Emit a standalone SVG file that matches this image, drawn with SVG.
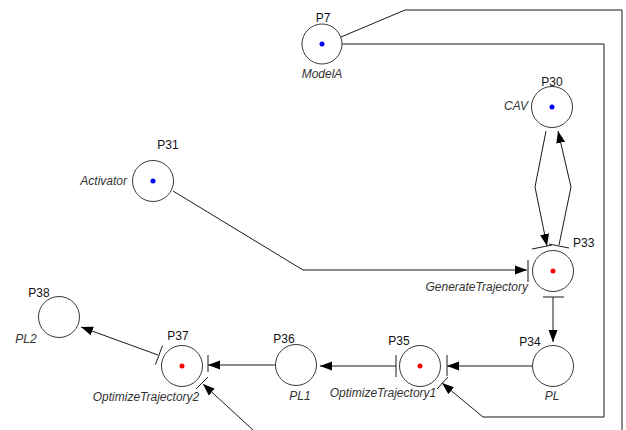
<svg xmlns="http://www.w3.org/2000/svg" width="626" height="430" viewBox="0 0 626 430">
  <style>
    .place { fill: #ffffff; stroke: #3a3a3a; stroke-width: 1; }
    .arc { fill: none; stroke: #1a1a1a; stroke-width: 1; }
    .bar { fill: none; stroke: #1a1a1a; stroke-width: 1; }
    .name { font-family: "Liberation Sans", Arial, sans-serif; font-size: 12px; fill: #111111; }
    .label { font-family: "Liberation Sans", Arial, sans-serif; font-size: 12px; font-style: italic; fill: #333333; }
    .tok-b { fill: #0000ff; }
    .tok-r { fill: #ff0000; }
  </style>
  <defs>
    <marker id="head" markerUnits="userSpaceOnUse" markerWidth="13" markerHeight="10" refX="12" refY="5" orient="auto">
      <path d="M0,0.5 L12,5 L0,9.5 Z" fill="#000000"/>
    </marker>
  </defs>
  <rect width="626" height="430" fill="#ffffff"/>

  <g id="connectors">
    <!-- feedback loops from ModelA along the right border -->
    <polyline class="arc" points="341,37 405,10 622,10 622,430"/>
    <line class="arc" x1="253" y1="430" x2="203" y2="384" marker-end="url(#head)"/>
    <polyline class="arc" points="342,44 604,44 604,417 483,417 442,383" marker-end="url(#head)"/>
    <!-- Activator into GenerateTrajectory -->
    <polyline class="arc" points="173,191 303,270 527,270" marker-end="url(#head)"/>
    <!-- CAV exchange -->
    <polyline class="arc" points="546,131 535,187 547,246" marker-end="url(#head)"/>
    <polyline class="arc" points="559,245 571,187 558,131" marker-end="url(#head)"/>
    <!-- main chain -->
    <line class="arc" x1="553" y1="297" x2="553" y2="342" marker-end="url(#head)"/>
    <line class="arc" x1="532" y1="366" x2="447" y2="366" marker-end="url(#head)"/>
    <line class="arc" x1="396" y1="366" x2="320" y2="366" marker-end="url(#head)"/>
    <line class="arc" x1="275" y1="365" x2="208" y2="365" marker-end="url(#head)"/>
    <line class="arc" x1="158" y1="355" x2="81" y2="327" marker-end="url(#head)"/>
  </g>

  <g id="P7">
    <circle class="place" cx="322" cy="44" r="20"/>
    <circle class="tok-b" cx="322" cy="44" r="2.5"/>
    <text class="name" x="323" y="22" text-anchor="middle">P7</text>
    <text class="label" x="322" y="78" text-anchor="middle">ModelA</text>
  </g>

  <g id="P30">
    <circle class="place" cx="552" cy="107" r="20.5"/>
    <circle class="tok-b" cx="552" cy="107" r="2.5"/>
    <text class="name" x="552" y="86" text-anchor="middle">P30</text>
    <text class="label" x="528" y="110" text-anchor="end">CAV</text>
  </g>

  <g id="P31">
    <circle class="place" cx="153" cy="181" r="20.5"/>
    <circle class="tok-b" cx="153" cy="181" r="2.5"/>
    <text class="name" x="168" y="149" text-anchor="middle">P31</text>
    <text class="label" x="127" y="185" text-anchor="end">Activator</text>
  </g>

  <g id="P33">
    <circle class="place" cx="553" cy="271" r="20.5"/>
    <circle class="tok-r" cx="553" cy="271" r="2.5"/>
    <line class="bar" x1="532" y1="249" x2="552" y2="245"/>
    <line class="bar" x1="549" y1="244" x2="569" y2="248"/>
    <line class="bar" x1="528" y1="260" x2="528" y2="282"/>
    <line class="bar" x1="543" y1="297" x2="564" y2="297"/>
    <text class="name" x="573" y="247">P33</text>
    <text class="label" x="528" y="291" text-anchor="end">GenerateTrajectory</text>
  </g>

  <g id="P34">
    <circle class="place" cx="553" cy="366" r="20.5"/>
    <text class="name" x="530" y="346" text-anchor="middle">P34</text>
    <text class="label" x="552" y="400" text-anchor="middle">PL</text>
  </g>

  <g id="P35">
    <circle class="place" cx="420" cy="366" r="20.5"/>
    <circle class="tok-r" cx="420" cy="366" r="2.5"/>
    <line class="bar" x1="396" y1="355" x2="396" y2="377"/>
    <line class="bar" x1="447" y1="355" x2="447" y2="376"/>
    <line class="bar" x1="437" y1="389" x2="448" y2="377"/>
    <text class="name" x="399" y="345" text-anchor="middle">P35</text>
    <text class="label" x="383" y="397" text-anchor="middle">OptimizeTrajectory1</text>
  </g>

  <g id="P36">
    <circle class="place" cx="296" cy="365" r="20.5"/>
    <text class="name" x="284" y="343" text-anchor="middle">P36</text>
    <text class="label" x="300" y="400" text-anchor="middle">PL1</text>
  </g>

  <g id="P37">
    <circle class="place" cx="182" cy="366" r="20.5"/>
    <circle class="tok-r" cx="182" cy="366" r="2.5"/>
    <line class="bar" x1="155.5" y1="364.5" x2="162.5" y2="345.5"/>
    <line class="bar" x1="208" y1="355" x2="208" y2="372"/>
    <line class="bar" x1="196" y1="389" x2="208" y2="377"/>
    <text class="name" x="178" y="340" text-anchor="middle">P37</text>
    <text class="label" x="146" y="401" text-anchor="middle">OptimizeTrajectory2</text>
  </g>

  <g id="P38">
    <circle class="place" cx="59" cy="317" r="20.5"/>
    <text class="name" x="39" y="297" text-anchor="middle">P38</text>
    <text class="label" x="26" y="343" text-anchor="middle">PL2</text>
  </g>
</svg>
